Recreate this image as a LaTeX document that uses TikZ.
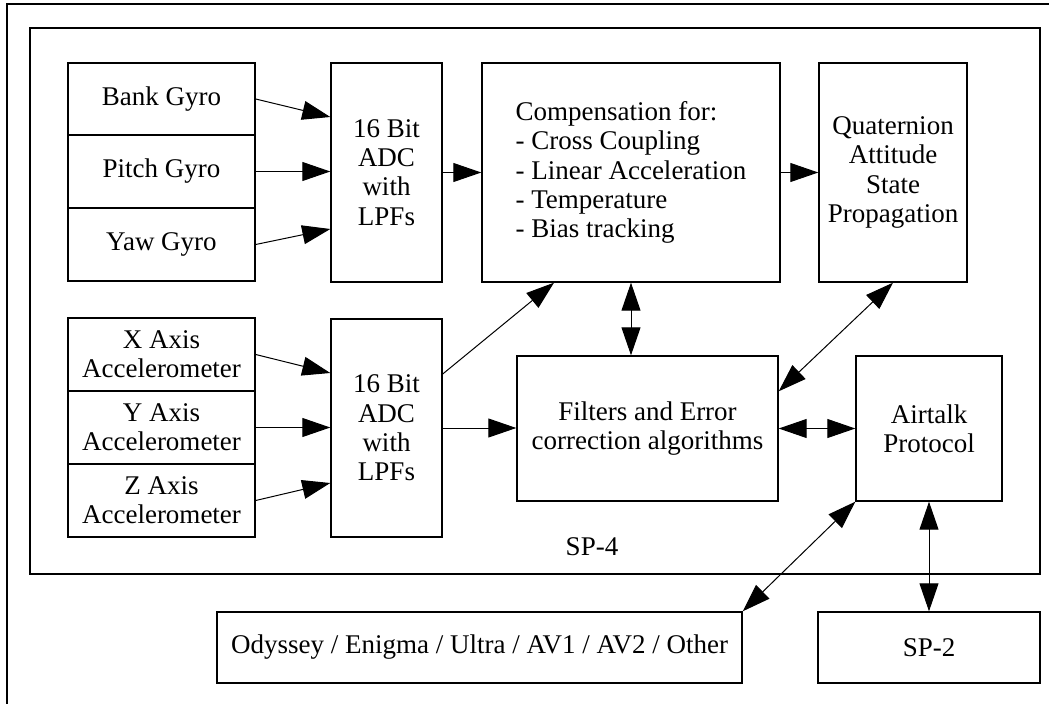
\documentclass[tikz,border=0pt]{standalone}
\usepackage{fontspec}
\setmainfont{Liberation Serif}
\usetikzlibrary{arrows.meta,calc}
\begin{document}
\begin{tikzpicture}[x=1pt,y=-1pt,
  txt/.style={font=\fontsize{27}{29.3}\selectfont},
  box/.style={draw, line width=1.4pt, inner sep=0pt, align=center, txt},
  gyrobox/.style={box, minimum width=187pt, minimum height=73pt},
  adcbox/.style={box, minimum width=111pt, minimum height=219pt},
  frameline/.style={line width=1.3pt},
  tip/.tip={Triangle[length=28pt,width=19pt]},
  arr/.style={line width=1pt, -tip},
  darr/.style={line width=1pt, tip-tip},
]
\useasboundingbox (0,0) rectangle (1049,704);
\fill[white] (0,0) rectangle (1049,704);
% outer frame (partly outside the picture)
\draw[line width=1.5pt] (1049,4) -- (7,4) -- (7,704);
% SP-4 frame
\draw[frameline] (30,28) rectangle (1040,574);
\node[txt] (sp4) at (592,547) {SP-4};

% gyros
\node[gyrobox, minimum height=72pt] (bank) at (161.5,99) {Bank Gyro};
\node[gyrobox] (pitch) at (161.5,171.5) {Pitch Gyro};
\node[gyrobox] (yaw) at (161.5,244.5) {Yaw Gyro};
\node[adcbox] (adc1) at (386.5,172.5) {16 Bit\\ADC\\with\\LPFs};

% compensation and quaternion
\node[box, minimum width=298pt, minimum height=219pt, align=left] (comp) at (631,172.5)
  {Compensation for:\\- Cross Coupling\\- Linear Acceleration\\- Temperature\\- Bias tracking};
\node[box, minimum width=148pt, minimum height=219pt] (quat) at (893,172.5)
  {Quaternion\\Attitude\\State\\Propagation};

% accelerometers
\node[gyrobox] (xacc) at (161.5,354.5) {X Axis\\Accelerometer};
\node[gyrobox] (yacc) at (161.5,427.5) {Y Axis\\Accelerometer};
\node[gyrobox] (zacc) at (161.5,500.5) {Z Axis\\Accelerometer};
\node[adcbox, minimum height=218pt] (adc2) at (386.5,428) {16 Bit\\ADC\\with\\LPFs};

% filters and airtalk
\node[box, minimum width=261pt, minimum height=145pt] (filt) at (647.5,428.5)
  {Filters and Error\\correction algorithms};
\node[box, minimum width=146pt, minimum height=145pt] (air) at (929,428.5)
  {Airtalk\\Protocol};

% external boxes
\node[box, minimum width=525pt, minimum height=71pt] (ody) at (479.5,647.5)
  {Odyssey / Enigma / Ultra / AV1 / AV2 / Other};
\node[box, minimum width=222pt, minimum height=71pt] (sp2) at (929,647.5) {SP-2};

% gyro arrows
\draw[arr] (bank.east) -- ([yshift=55.5pt]adc1.west);
\draw[arr] (pitch.east) -- (adc1.west |- pitch.east);
\draw[arr] (yaw.east) -- ([yshift=-56.5pt]adc1.west);
\draw[arr] (adc1.east) -- (comp.west);
\draw[arr] (comp.east) -- (quat.west);

% accelerometer arrows
\draw[arr] (xacc.east) -- ([yshift=55pt]adc2.west);
\draw[arr] (yacc.east) -- (adc2.west |- yacc.east);
\draw[arr] (zacc.east) -- ([yshift=-55pt]adc2.west);
\draw[arr] (adc2.east) -- (filt.west |- adc2.east);
\draw[arr] ([yshift=54pt]adc2.east) -- ([xshift=-77pt]comp.south);

% bidirectional links
\draw[darr] (comp.south) -- (comp.south |- filt.north);
\draw[darr] (quat.south) -- ([yshift=-36pt]filt.north east);
\draw[darr] (filt.east) -- (air.west);
\draw[darr] (air.south west) -- (ody.north east);
\draw[darr] (air.south) -- (sp2.north);
\end{tikzpicture}
\end{document}
